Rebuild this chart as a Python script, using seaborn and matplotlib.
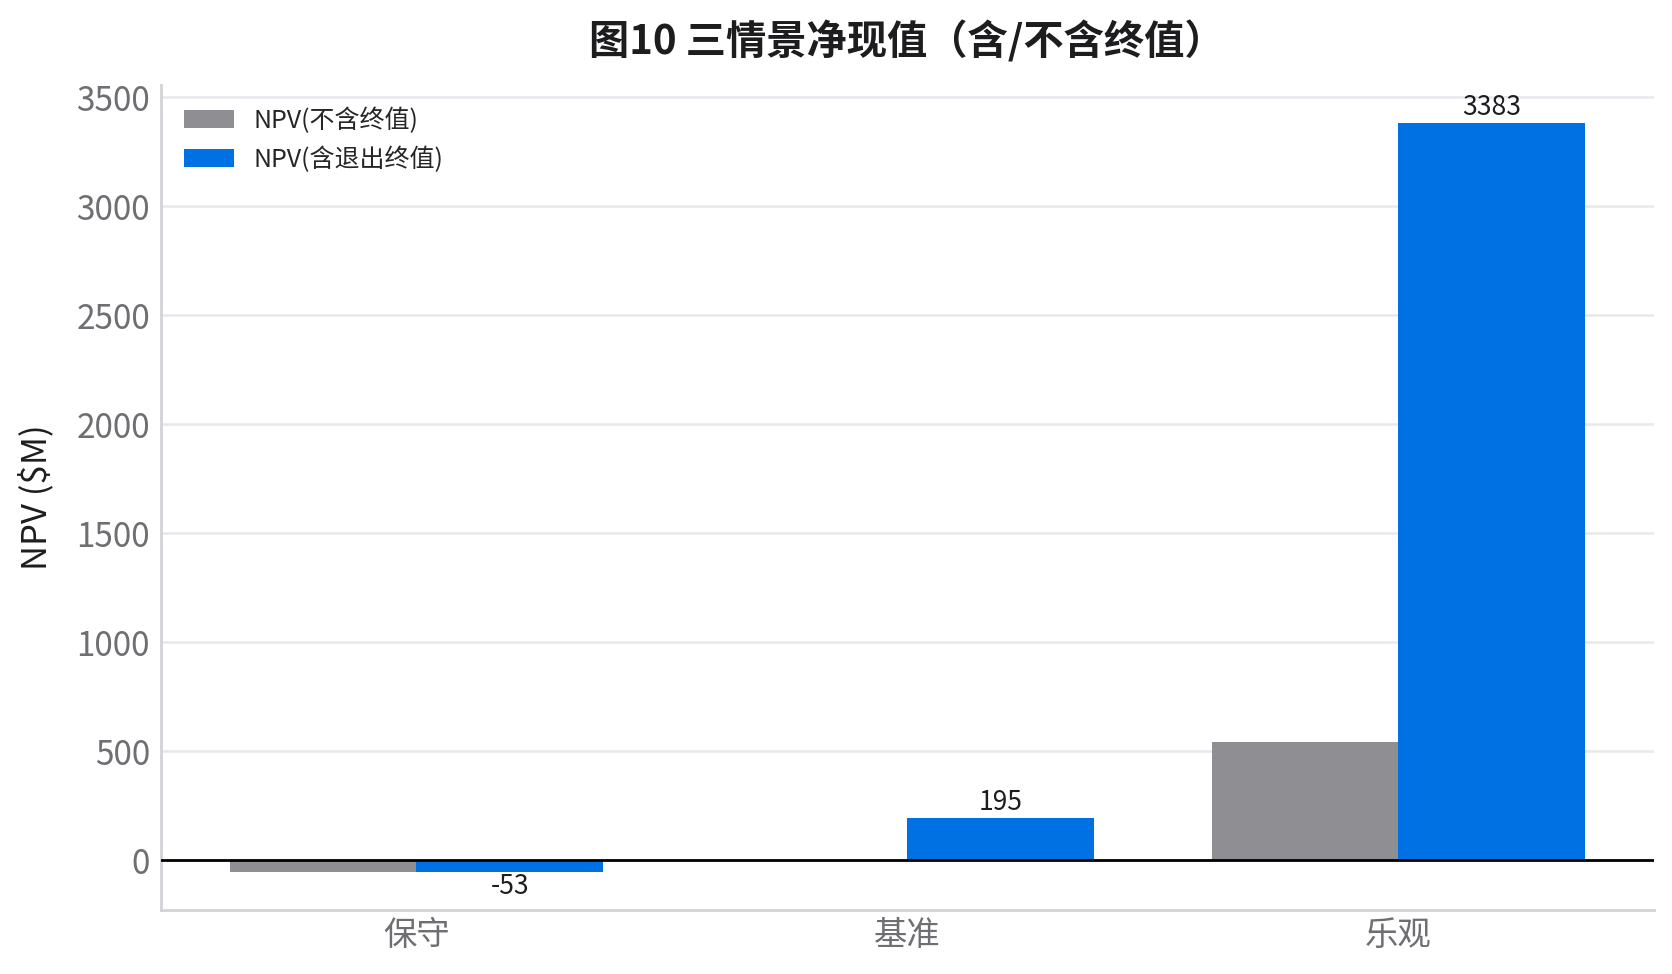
import matplotlib
matplotlib.use("Agg")
import matplotlib.pyplot as plt
import seaborn as sns
import pandas as pd

scenarios = ["保守", "基准", "乐观"]
series_names = ["NPV(不含终值)", "NPV(含退出终值)"]
npv_no_tv = [-55, 0, 540]
npv_with_tv = [-53, 195, 3383]
palette = ["#8e8e93", "#0071e3"]

df = pd.DataFrame({
    "scenario": scenarios * 2,
    "series": [series_names[0]] * 3 + [series_names[1]] * 3,
    "npv": npv_no_tv + npv_with_tv,
})

sns.set_style("white")
plt.rcParams["font.family"] = ["Noto Sans CJK SC", "DejaVu Sans"]
plt.rcParams["axes.unicode_minus"] = False

fig, ax = plt.subplots(figsize=(8.36, 4.87), dpi=200)
fig.subplots_adjust(left=0.0963, right=0.989, top=0.9127, bottom=0.0657)

sns.barplot(data=df, x="scenario", y="npv", hue="series", order=scenarios,
            hue_order=series_names, palette=palette, width=0.76, gap=0,
            saturation=1, errorbar=None, linewidth=0, ax=ax, zorder=3)

# value labels only on the blue series
ax.bar_label(ax.containers[1], fmt="%.0f", padding=0.5, fontsize=9.5, color="#1d1d1f")

ax.axhline(0, color="black", lw=1.0, zorder=4)
ax.yaxis.grid(True, color="#e8e8ed", lw=0.9, zorder=0)
ax.set_axisbelow(True)
ax.set_xlim(-0.52, 2.52)
ax.set_ylim(-229, 3555)

for side in ["top", "right"]:
    ax.spines[side].set_visible(False)
for side in ["left", "bottom"]:
    ax.spines[side].set_color("#d2d2d7")
    ax.spines[side].set_linewidth(1.0)

ax.tick_params(axis="both", length=0, labelsize=12, labelcolor="#6e6e73")
ax.tick_params(axis="y", pad=4)
ax.tick_params(axis="x", pad=3)
ax.set_xlabel("")
ax.set_ylabel("NPV ($M)", fontsize=12.5, color="#1d1d1f", labelpad=8)
ax.set_title("图10 三情景净现值（含/不含终值）", fontsize=14.5, fontweight="bold",
             color="#1d1d1f", pad=11)

ax.legend(loc="upper left", frameon=False, fontsize=9, title=None)

fig.savefig("out.png", dpi=200)
